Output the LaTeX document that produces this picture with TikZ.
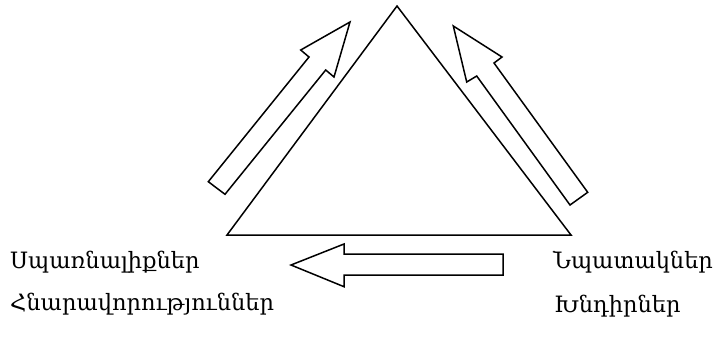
\documentclass[tikz,border=0pt]{standalone}
\usepackage{fontspec}
\newfontfamily\armfont{DejaVu Serif}
\begin{document}
\begin{tikzpicture}[x=1pt,y=-1pt,
  outline/.style={draw=black,line width=1.5pt,line join=miter},
  lbl/.style={font=\armfont\fontsize{22.5}{26}\selectfont,inner sep=0pt,anchor=base west}]
\useasboundingbox (0,0) rectangle (719,338);
% triangle
\draw[outline] (227,235) -- (397,6) -- (571,235) -- cycle;
% left block arrow
\draw[outline] (350,22) -- (300.7,50) -- (309,57) -- (208.3,181.7) -- (225,194.3) -- (325.7,70) -- (334,77) -- cycle;
% right block arrow
\draw[outline] (453.3,26) -- (502,57) -- (494,63) -- (587.7,192.3) -- (570,205) -- (476.7,76) -- (466.7,82) -- cycle;
% bottom block arrow
\draw[outline] (291,265) -- (344,244) -- (344,254) -- (503,254) -- (503,275) -- (344,275) -- (344,286.7) -- cycle;
% labels
\node[lbl] (threats) at (10,268) {Սպառնալիքներ};
\node[lbl] (opps) at (10,310) {Հնարավորություններ};
\node[lbl] (goals) at (553,268) {Նպատակներ};
\node[lbl] (tasks) at (554,312) {Խնդիրներ};
\end{tikzpicture}
\end{document}
